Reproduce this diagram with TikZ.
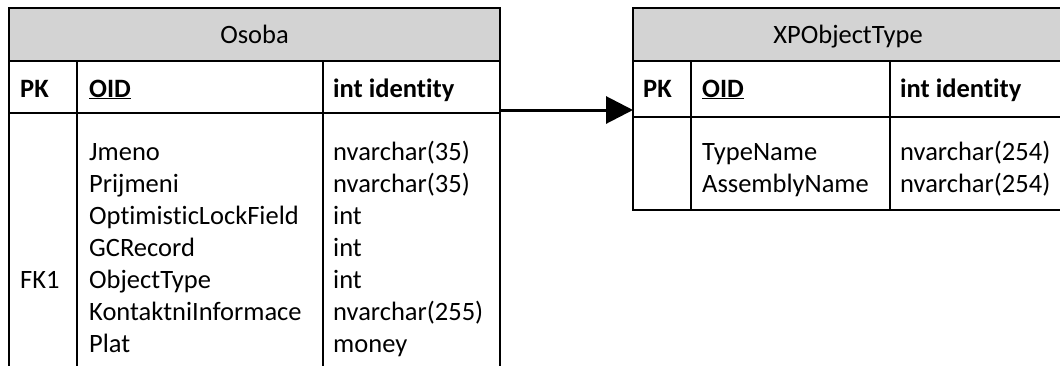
\documentclass[tikz,border=0pt]{standalone}
\usepackage{fontspec}
\setmainfont{Carlito}[Ligatures=NoCommon]
\usetikzlibrary{arrows.meta}
\definecolor{headgray}{RGB}{211,211,211}
\newcommand{\cellfont}{\fontsize{26.5}{32}\selectfont}
\begin{document}
\begin{tikzpicture}[x=1pt,y=-1pt,
  tablepart/.style={draw=black, line width=2pt, rectangle, anchor=north west,
    inner sep=0pt, outer sep=0pt},
  headpart/.style={tablepart, fill=headgray},
  celltext/.style={anchor=base west, inner sep=0pt, font=\cellfont},
  keytext/.style={anchor=base west, inner sep=0pt, font=\cellfont\bfseries},
  titletext/.style={anchor=base, inner sep=0pt, font=\cellfont},
  divider/.style={line width=2pt},
  fkarrow/.style={line width=3pt, -{Triangle[length=27pt,width=27pt]}}]
\clip (0,0) rectangle (1060,365);

% ---- table Osoba ----
\node[headpart, minimum width=491pt, minimum height=53pt] (osoba-head) at (9,8) {};
\node[tablepart, minimum width=491pt, minimum height=52pt] (osoba-pk) at (9,61) {};
\node[tablepart, minimum width=491pt, minimum height=300pt] (osoba-body) at (9,113) {};
\draw[divider] (77,61) -- (77,420);
\draw[divider] (323,61) -- (323,420);

\node[titletext] (osoba-title) at (254.5,43) {Osoba};
\node[keytext] (osoba-pk-tag) at (20,97) {PK};
\node[keytext] (osoba-oid) at (89,97) {\underline{OID}};
\node[keytext] (osoba-oid-type) at (333,97) {int identity};

\node[celltext] (osoba-c1) at (89,160) {Jmeno};
\node[celltext] (osoba-c2) at (89,192) {Prijmeni};
\node[celltext] (osoba-c3) at (89,224) {OptimisticLockField};
\node[celltext] (osoba-c4) at (89,256) {GCRecord};
\node[celltext] (osoba-c5) at (89,288) {ObjectType};
\node[celltext] (osoba-c6) at (89,320) {KontaktniInformace};
\node[celltext] (osoba-c7) at (89,352) {Plat};
\node[celltext] (osoba-fk) at (20,288) {FK1};

\node[celltext] (osoba-t1) at (333,160) {nvarchar(35)};
\node[celltext] (osoba-t2) at (333,192) {nvarchar(35)};
\node[celltext] (osoba-t3) at (333,224) {int};
\node[celltext] (osoba-t4) at (333,256) {int};
\node[celltext] (osoba-t5) at (333,288) {int};
\node[celltext] (osoba-t6) at (333,320) {nvarchar(255)};
\node[celltext] (osoba-t7) at (333,352) {money};

% ---- table XPObjectType ----
\node[headpart, minimum width=430pt, minimum height=53pt] (xp-head) at (633,8) {};
\node[tablepart, minimum width=430pt, minimum height=56pt] (xp-pk) at (633,61) {};
\node[tablepart, minimum width=430pt, minimum height=93pt] (xp-body) at (633,117) {};
\draw[divider] (691,61) -- (691,210);
\draw[divider] (890,61) -- (890,210);

\node[titletext] (xp-title) at (848,43) {XPObjectType};
\node[keytext] (xp-pk-tag) at (643,97) {PK};
\node[keytext] (xp-oid) at (702,97) {\underline{OID}};
\node[keytext] (xp-oid-type) at (900,97) {int identity};

\node[celltext] (xp-c1) at (702,160) {TypeName};
\node[celltext] (xp-c2) at (702,192) {AssemblyName};
\node[celltext] (xp-t1) at (900,160) {nvarchar(254)};
\node[celltext] (xp-t2) at (900,192) {nvarchar(254)};

% ---- foreign key ObjectType -> XPObjectType.OID ----
\coordinate (fk-start) at ([yshift=3pt]osoba-pk.south east);
\draw[fkarrow] (fk-start) -- (fk-start -| xp-pk.west);
\end{tikzpicture}
\end{document}
